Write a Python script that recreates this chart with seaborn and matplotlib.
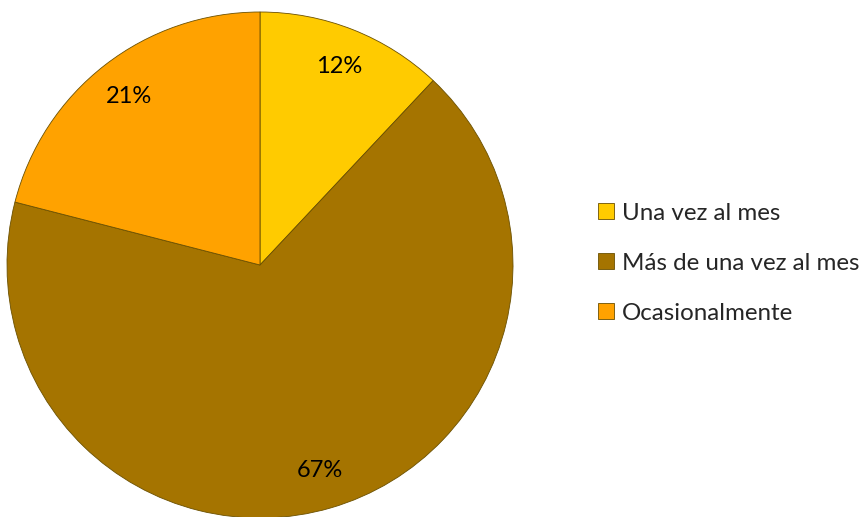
import matplotlib
matplotlib.use("Agg")
import matplotlib.pyplot as plt
import seaborn as sns

# data
categories = ["Una vez al mes", "Más de una vez al mes", "Ocasionalmente"]
shares = [12, 67, 21]
colors = ["#FFCB00", "#A57400", "#FFA200"]

sns.set_theme(style="white")
plt.rcParams['font.family'] = ['Lato', 'DejaVu Sans']

fig = plt.figure(figsize=(8.66, 5.17), dpi=100)
ax = fig.add_axes([7 / 866, -1 / 517, 506 / 866, 506 / 517])

wedges, texts, autotexts = ax.pie(
    shares, colors=sns.color_palette(colors), startangle=90, counterclock=False,
    autopct=lambda p: f"{p:.0f}%", pctdistance=0.845,
    wedgeprops=dict(edgecolor="#6b5000", linewidth=0.6),
    textprops=dict(fontsize=17, color="black"))
ax.set_aspect("equal")
ax.set_xlim(-1, 1)
ax.set_ylim(-1, 1)
ax.axis("off")

fig.legend(wedges, categories, loc="center left", bbox_to_anchor=(598 / 866, 1 - 263 / 517),
           frameon=False, fontsize=17.4, handlelength=0.65, handleheight=0.65,
           handletextpad=0.35, labelspacing=1.2, borderaxespad=0, borderpad=0)

fig.savefig("out.png", dpi=100)
